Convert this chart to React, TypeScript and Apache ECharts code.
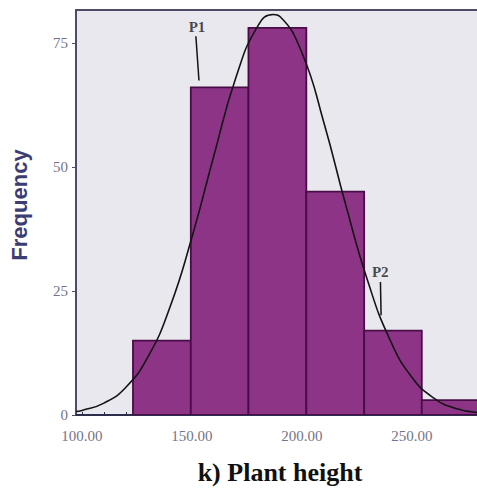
import React, { useEffect, useRef } from "react";
import * as echarts from "echarts";

// Histogram bins (plant height) and their frequencies
const binEdges = [123.2, 149.5, 175.7, 202.0, 228.3, 254.5, 280.8];
const frequencies = [15, 66, 78, 45, 17, 3];

// Fitted normal curve, sampled along plant height
const curveX = [97.3, 100, 110, 120, 130, 140, 150, 160, 170, 180, 187, 190, 200, 210, 220, 230, 240, 250, 260, 270, 280];
const curveY = [0.7, 0.9, 2.4, 5.6, 11.7, 21.7, 35.8, 52.3, 68.0, 78.4, 80.7, 80.3, 73.0, 58.9, 42.2, 26.9, 15.2, 7.6, 3.4, 1.3, 0.5];

// Axis ticks
const xTickLabels = [100, 150, 200, 250];
const xMinorTicks = [100, 110, 120, 130, 140, 150, 160, 170, 180, 190, 200, 210, 220, 230, 240, 250, 260, 270];
const yTickLabels = [0, 25, 50, 75];

// Annotation callouts: label, label anchor, pointer start, pointer end
const calloutNames = ["P1", "P2"];
const calloutText = [[152.3, 78.2], [235.6, 28.9]];
const calloutFrom = [[151.8, 76.3], [235.7, 26.8]];
const calloutTo = [[153.2, 67.4], [236.0, 20.1]];

const X_MIN = 97.3;
const X_MAX = 279.6;
const Y_MAX = 81.6;

export default function App() {
  const ref = useRef<HTMLDivElement>(null);

  useEffect(() => {
    if (!ref.current) return;
    const chart = echarts.init(ref.current, undefined, { renderer: "svg" });

    const barData = frequencies.map((f, i) => [binEdges[i], binEdges[i + 1], f]);
    const curveData = curveX.map((x, i) => [x, curveY[i]]);

    chart.setOption({
      animation: false,
      backgroundColor: "#ffffff",
      grid: {
        left: 76,
        right: 0,
        top: 10,
        bottom: 80,
        show: true,
        backgroundColor: "#e8e8ee",
        borderWidth: 0,
      },
      xAxis: [
        {
          type: "value",
          min: X_MIN,
          max: X_MAX,
          position: "bottom",
          axisLine: { show: true, onZero: false, lineStyle: { color: "#2e2e4c", width: 2 } },
          axisTick: {
            show: true,
            inside: true,
            length: 3,
            customValues: xMinorTicks,
            lineStyle: { color: "#2e2e4c", width: 1 },
          },
          axisLabel: {
            customValues: xTickLabels,
            formatter: (v: number) => v.toFixed(2),
            color: "#74748a",
            fontFamily: "Liberation Serif",
            fontSize: 15,
            margin: 13,
          },
          splitLine: { show: false },
        },
        {
          type: "value",
          min: X_MIN,
          max: X_MAX,
          position: "top",
          axisLine: { show: true, onZero: false, lineStyle: { color: "#4c4c66", width: 2 } },
          axisTick: { show: false },
          axisLabel: { show: false },
          splitLine: { show: false },
        },
      ],
      yAxis: {
        type: "value",
        min: 0,
        max: Y_MAX,
        axisLine: { show: true, onZero: false, lineStyle: { color: "#4c4c66", width: 2 } },
        axisTick: {
          show: true,
          length: 4,
          customValues: yTickLabels,
          lineStyle: { color: "#4c4c66", width: 1 },
        },
        axisLabel: {
          customValues: yTickLabels,
          color: "#74748a",
          fontFamily: "Liberation Serif",
          fontSize: 15,
          margin: 8,
        },
        splitLine: { show: false },
      },
      series: [
        {
          type: "custom",
          name: "Frequency",
          clip: true,
          z: 2,
          encode: { x: [0, 1], y: 2 },
          data: barData,
          renderItem: (params: any, api: any) => {
            const topLeft = api.coord([api.value(0), api.value(2)]);
            const bottomRight = api.coord([api.value(1), 0]);
            return {
              type: "rect",
              shape: {
                x: topLeft[0],
                y: topLeft[1],
                width: bottomRight[0] - topLeft[0],
                height: bottomRight[1] - topLeft[1],
              },
              style: { fill: "#8d3487", stroke: "#4a0c48", lineWidth: 1.8 },
            };
          },
        },
        {
          type: "line",
          name: "Normal",
          data: curveData,
          smooth: true,
          showSymbol: false,
          symbol: "none",
          z: 4,
          lineStyle: { color: "#141414", width: 1.6 },
          markLine: {
            silent: true,
            symbol: "none",
            label: { show: false },
            lineStyle: { color: "#141414", width: 1.5, type: "solid" },
            data: calloutNames.map((_, i) => [
              { coord: calloutFrom[i] },
              { coord: calloutTo[i] },
            ]),
          },
        },
        {
          type: "scatter",
          name: "Callouts",
          symbolSize: 0,
          z: 5,
          data: calloutNames.map((n, i) => ({ name: n, value: calloutText[i] })),
          label: {
            show: true,
            position: "inside",
            formatter: "{b}",
            color: "#1c1c1c",
            fontFamily: "Liberation Serif",
            fontWeight: "bold",
            fontSize: 15,
          },
        },
      ],
      graphic: [
        {
          type: "text",
          x: 19,
          y: 205,
          rotation: Math.PI / 2,
          style: {
            text: "Frequency",
            fill: "#3b3d73",
            font: "bold 22px 'Liberation Sans'",
            align: "center",
            verticalAlign: "middle",
          },
        },
        {
          type: "text",
          x: 280,
          y: 472,
          style: {
            text: "k) Plant height",
            fill: "#111111",
            font: "bold 26px 'Liberation Serif'",
            align: "center",
            verticalAlign: "middle",
          },
        },
      ],
    });

    return () => chart.dispose();
  }, []);

  return (
    <div
      ref={ref}
      style={{ position: "absolute", left: 0, top: 0, width: 477, height: 495 }}
    />
  );
}
